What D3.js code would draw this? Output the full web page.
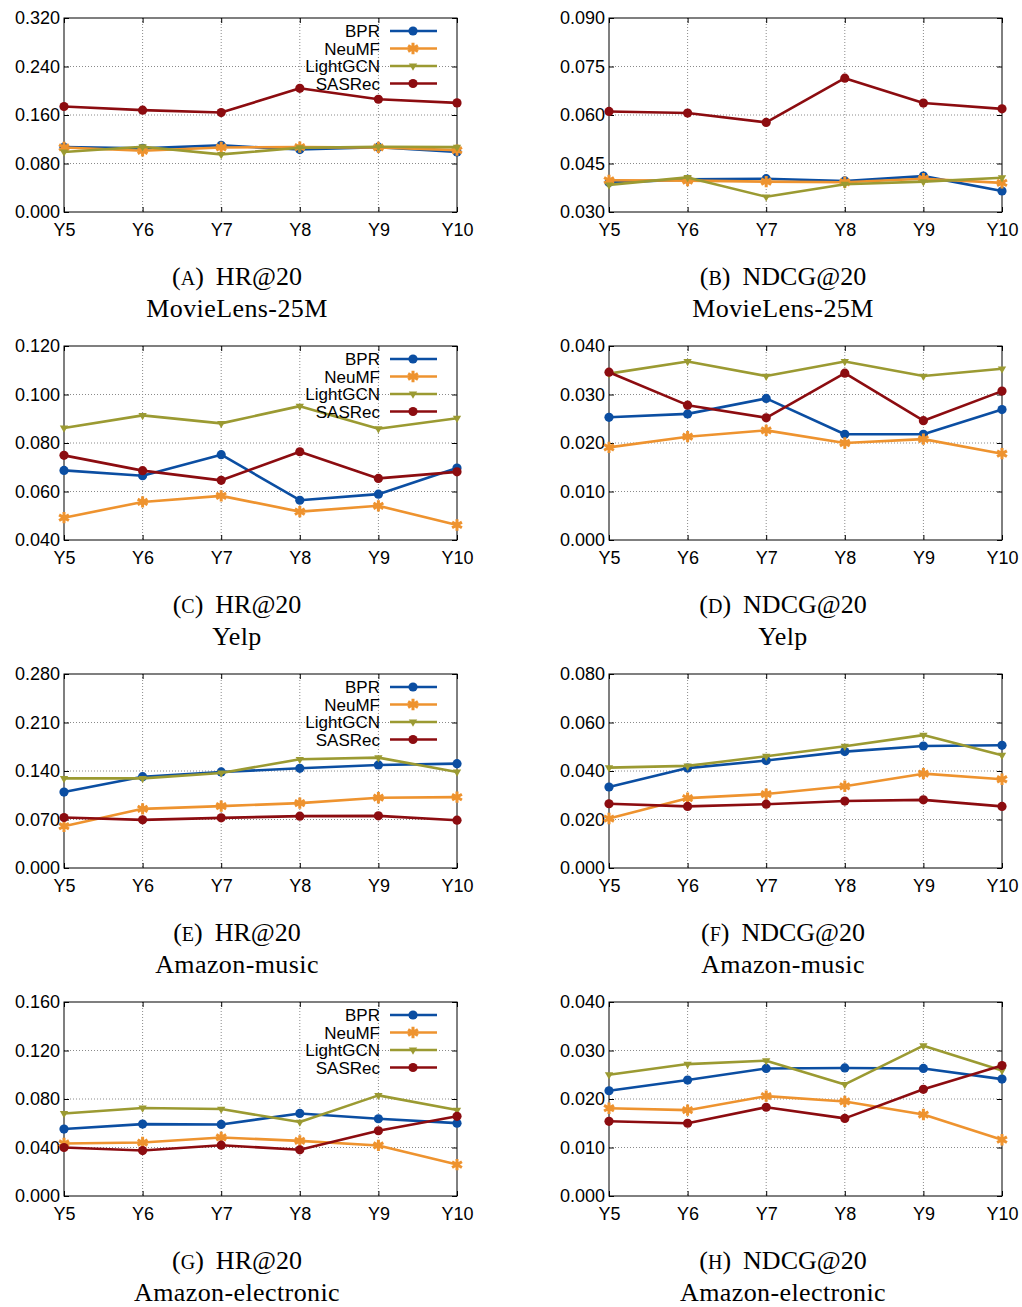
<!DOCTYPE html>
<html>
<head>
<meta charset="utf-8">
<script src="https://cdn.jsdelivr.net/npm/d3@7"></script>
<style>
  body { margin: 0; background: #fff; }
</style>
</head>
<body>
<div id="body"></div>
<script>
// categories and series names
const years = ['Y5', 'Y6', 'Y7', 'Y8', 'Y9', 'Y10'];
const models = ['BPR', 'NeuMF', 'LightGCN', 'SASRec'];

// values, one row per model (BPR, NeuMF, LightGCN, SASRec)
const hrMovieLens = [
  [0.107, 0.105, 0.110, 0.103, 0.107, 0.099],
  [0.1065, 0.101, 0.1065, 0.107, 0.1065, 0.102],
  [0.099, 0.1076, 0.095, 0.106, 0.1076, 0.107],
  [0.174, 0.168, 0.164, 0.204, 0.186, 0.180]
];
const ndcgMovieLens = [
  [0.0391, 0.0401, 0.0403, 0.0396, 0.0411, 0.0365],
  [0.0398, 0.0397, 0.0394, 0.0392, 0.0403, 0.0390],
  [0.0384, 0.0407, 0.0347, 0.0386, 0.0394, 0.0406],
  [0.0611, 0.0606, 0.0577, 0.0714, 0.0637, 0.0619]
];
const hrYelp = [
  [0.0687, 0.0665, 0.0752, 0.0564, 0.0589, 0.0697],
  [0.0492, 0.0557, 0.0582, 0.0517, 0.0541, 0.0462],
  [0.0862, 0.0914, 0.0881, 0.0952, 0.0859, 0.0902],
  [0.0749, 0.0686, 0.0646, 0.0764, 0.0654, 0.0681]
];
const ndcgYelp = [
  [0.0253, 0.0260, 0.0292, 0.0218, 0.0218, 0.0269],
  [0.0191, 0.0213, 0.0226, 0.0200, 0.0208, 0.0178],
  [0.0343, 0.0368, 0.0338, 0.0368, 0.0338, 0.0353],
  [0.0346, 0.0278, 0.0252, 0.0344, 0.0246, 0.0307]
];
const hrMusic = [
  [0.1096, 0.1318, 0.1386, 0.1439, 0.1487, 0.1506],
  [0.0603, 0.0854, 0.0893, 0.0937, 0.1014, 0.1023],
  [0.1294, 0.1294, 0.1371, 0.1569, 0.1593, 0.1386],
  [0.0729, 0.0695, 0.0724, 0.0748, 0.0753, 0.0690]
];
const ndcgMusic = [
  [0.0334, 0.0412, 0.0443, 0.0480, 0.0503, 0.0506],
  [0.0204, 0.0288, 0.0305, 0.0337, 0.0389, 0.0366],
  [0.0414, 0.0421, 0.0461, 0.0502, 0.0548, 0.0465],
  [0.0265, 0.0254, 0.0263, 0.0276, 0.0281, 0.0254]
];
const hrElectronic = [
  [0.0552, 0.0593, 0.0590, 0.0681, 0.0637, 0.0601],
  [0.0433, 0.0441, 0.0483, 0.0455, 0.0417, 0.0259],
  [0.0681, 0.0726, 0.0717, 0.0610, 0.0830, 0.0709],
  [0.0400, 0.0375, 0.0419, 0.0381, 0.0538, 0.0657]
];
const ndcgElectronic = [
  [0.0217, 0.0239, 0.0263, 0.0264, 0.0263, 0.0241],
  [0.0181, 0.0177, 0.0206, 0.0195, 0.0168, 0.0116],
  [0.0250, 0.0272, 0.0279, 0.0230, 0.0310, 0.0259],
  [0.0154, 0.0150, 0.0183, 0.0160, 0.0220, 0.0269]
];

// y tick values per panel
const ticksA = [0, 0.08, 0.16, 0.24, 0.32];
const ticksB = [0.03, 0.045, 0.06, 0.075, 0.09];
const ticksC = [0.04, 0.06, 0.08, 0.10, 0.12];
const ticksD = [0, 0.01, 0.02, 0.03, 0.04];
const ticksE = [0, 0.07, 0.14, 0.21, 0.28];
const ticksF = [0, 0.02, 0.04, 0.06, 0.08];
const ticksG = [0, 0.04, 0.08, 0.12, 0.16];
const ticksH = [0, 0.01, 0.02, 0.03, 0.04];

// captions
const letters = ['A', 'B', 'C', 'D', 'E', 'F', 'G', 'H'];
const metrics = ['HR@20', 'NDCG@20'];
const datasets = ['MovieLens-25M', 'Yelp', 'Amazon-music', 'Amazon-electronic'];

const panels = [
  [hrMovieLens, ticksA], [ndcgMovieLens, ticksB],
  [hrYelp, ticksC], [ndcgYelp, ticksD],
  [hrMusic, ticksE], [ndcgMusic, ticksF],
  [hrElectronic, ticksG], [ndcgElectronic, ticksH]
];

const colors = ['#0b4ea2', '#ee932f', '#9b9a32', '#8c0c10'];
const shapes = ['circle', 'star', 'tri', 'circle'];

const plotW = 393, plotH = 194;
const colX = [64, 609];
const capX = [237, 783];
const rowStep = 328, top0 = 18;

const svg = d3.select('#body')
    .append('svg')
    .attr('width', 1022)
    .attr('height', 1307)
    .style('background', '#fff');

function drawMarker (sel, shape, color) {
  if (shape === 'circle') {
    sel.append('circle').attr('r', 4.6).attr('fill', color);
  } else if (shape === 'star') {
    sel.append('path')
      .attr('d', d3.symbol(d3.symbolAsterisk, 90)())
      .attr('fill', 'none')
      .attr('stroke', color)
      .attr('stroke-width', 3);
  } else {
    sel.append('path')
      .attr('d', d3.symbol(d3.symbolTriangle, 30)())
      .attr('transform', 'rotate(180)')
      .attr('fill', color);
  }
}

function drawPanel (i) {
  const col = i % 2, row = Math.floor(i / 2);
  const data = panels[i][0], ticks = panels[i][1];
  const g = svg.append('g')
      .attr('transform', `translate(${colX[col]},${top0 + row * rowStep})`);

  const x = d3.scalePoint().domain(years).range([0, plotW]);
  const y = d3.scaleLinear()
      .domain([ticks[0], ticks[ticks.length - 1]])
      .range([plotH, 0]);

  // dotted grid
  g.append('g').selectAll('line')
    .data(years.slice(1, -1)).join('line')
      .attr('x1', d => x(d)).attr('x2', d => x(d))
      .attr('y1', 0).attr('y2', plotH)
      .attr('stroke', '#8a8a8a').attr('stroke-width', 1)
      .attr('stroke-dasharray', '1,2');
  g.append('g').selectAll('line')
    .data(ticks.slice(1, -1)).join('line')
      .attr('x1', 0).attr('x2', plotW)
      .attr('y1', d => y(d)).attr('y2', d => y(d))
      .attr('stroke', '#8a8a8a').attr('stroke-width', 1)
      .attr('stroke-dasharray', '1,2');

  // axes, ticks inward
  const fmt = d3.format('.3f');
  const axes = [
    g.append('g').call(d3.axisLeft(y).tickValues(ticks).tickFormat(fmt).tickSize(-5).tickPadding(4)),
    g.append('g').attr('transform', `translate(0,${plotH})`)
      .call(d3.axisBottom(x).tickSize(-5).tickPadding(11)),
    g.append('g').attr('transform', `translate(${plotW},0)`)
      .call(d3.axisRight(y).tickValues(ticks).tickFormat('').tickSize(-5)),
    g.append('g').call(d3.axisTop(x).tickFormat('').tickSize(-5))
  ];
  axes.forEach(a => {
    a.select('.domain').remove();
    a.attr('font-family', '"Liberation Sans", Arial, sans-serif')
      .attr('font-size', 18);
    a.selectAll('.tick line').attr('stroke', '#000');
    a.selectAll('.tick text').attr('fill', '#000');
  });

  // frame
  g.append('rect')
    .attr('width', plotW).attr('height', plotH)
    .attr('fill', 'none').attr('stroke', '#000').attr('stroke-width', 1);

  const line = d3.line()
      .x((d, j) => x(years[j]))
      .y(d => y(d));

  data.forEach((vals, k) => {
    g.append('path')
      .attr('d', line(vals))
      .attr('fill', 'none')
      .attr('stroke', colors[k])
      .attr('stroke-width', 2.6)
      .attr('stroke-linejoin', 'round');
    g.append('g').selectAll('g')
      .data(vals).join('g')
        .attr('transform', (d, j) => `translate(${x(years[j])},${y(d)})`)
        .each(function () { drawMarker(d3.select(this), shapes[k], colors[k]); });
  });

  // legend only on the left column
  if (col === 0) {
    const lg = g.append('g');
    models.forEach((m, k) => {
      const ly = 13 + k * 17.5;
      lg.append('text')
        .attr('x', 316).attr('y', ly + 6)
        .attr('text-anchor', 'end')
        .attr('font-family', '"Liberation Sans", Arial, sans-serif')
        .attr('font-size', 17)
        .text(m);
      lg.append('line')
        .attr('x1', 326).attr('x2', 373)
        .attr('y1', ly).attr('y2', ly)
        .attr('stroke', colors[k]).attr('stroke-width', 2.6);
      const mk = lg.append('g').attr('transform', `translate(349,${ly})`);
      drawMarker(mk, shapes[k], colors[k]);
    });
  }

  // caption
  const cy = 285 + row * rowStep;
  const cap = svg.append('text')
      .attr('x', capX[col]).attr('y', cy)
      .attr('text-anchor', 'middle')
      .attr('font-family', '"Liberation Serif", "Times New Roman", serif')
      .attr('font-size', 26);
  cap.append('tspan').text('(');
  cap.append('tspan').attr('font-size', 20).text(letters[i]);
  cap.append('tspan').text(')');
  cap.append('tspan').attr('dx', 12).text(metrics[col]);
  svg.append('text')
    .attr('x', capX[col]).attr('y', cy + 32)
    .attr('text-anchor', 'middle')
    .attr('font-family', '"Liberation Serif", "Times New Roman", serif')
    .attr('font-size', 26)
    .attr('letter-spacing', 0.4)
    .text(datasets[row]);
}

panels.forEach((p, i) => drawPanel(i));
</script>
</body>
</html>
